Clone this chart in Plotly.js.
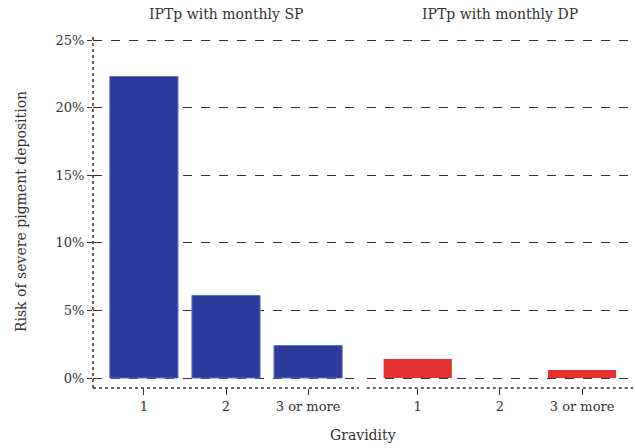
<!DOCTYPE html>
<html>
<head>
<meta charset="utf-8">
<script src="https://cdn.plot.ly/plotly-3.0.1.min.js"></script>
<style>html,body{margin:0;padding:0;background:#fff;}#chart{width:635px;height:448px;}</style>
</head>
<body>
<div id="chart"></div>
<script>
var categories = ['1', '2', '3 or more'];
var spRisk = [22.3, 6.1, 2.4];
var dpRisk = [1.4, 0, 0.6];
var panelTitles = ['IPTp with monthly SP', 'IPTp with monthly DP'];
var yTickVals = [0, 5, 10, 15, 20, 25];
var yTickText = ['0%', '5%', '10%', '15%', '20%', '25%'];

var fontFam = 'DejaVu Serif, Liberation Serif, serif';
var txt = '#333333';

var traces = [
  {type: 'bar', x: categories, y: spRisk, xaxis: 'x', yaxis: 'y',
   marker: {color: '#2a3b9c', line: {color: '#5a6fd0', width: 1}}, hoverinfo: 'x+y'},
  {type: 'bar', x: categories, y: dpRisk, xaxis: 'x2', yaxis: 'y2',
   marker: {color: '#e53030', line: {width: 0}}, hoverinfo: 'x+y'}
];

var yBase = {
  range: [-0.74, 25.37], tickmode: 'array', tickvals: yTickVals, ticktext: yTickText,
  showgrid: true, gridcolor: '#333', griddash: 'dash', gridwidth: 1,
  zeroline: false, showline: false, fixedrange: true
};
var xBase = {
  type: 'category', range: [-0.62, 2.62], showgrid: false, zeroline: false,
  showline: false, ticks: 'outside', ticklen: 6, tickcolor: '#333',
  tickfont: {family: fontFam, size: 13, color: txt}
};

var layout = {
  width: 635, height: 448,
  margin: {l: 93, r: 2, t: 35, b: 60},
  paper_bgcolor: '#fff', plot_bgcolor: '#fff',
  showlegend: false, bargap: 0.17,
  font: {family: fontFam, size: 13, color: txt},
  xaxis: Object.assign({}, xBase, {domain: [0, 0.4926], anchor: 'y'}),
  xaxis2: Object.assign({}, xBase, {domain: [0.507, 1], anchor: 'y2'}),
  yaxis: Object.assign({}, yBase, {
    anchor: 'x', ticks: 'outside', ticklen: 5, tickcolor: '#333',
    tickfont: {family: fontFam, size: 13, color: txt},
    title: {text: 'Risk of severe pigment deposition', standoff: 25,
            font: {family: fontFam, size: 14, color: txt}}
  }),
  yaxis2: Object.assign({}, yBase, {anchor: 'x2', showticklabels: false, ticks: ''}),
  shapes: [
    {type: 'line', xref: 'paper', yref: 'paper', x0: 0, x1: 0, y0: 0, y1: 1,
     line: {color: '#333', width: 1.5, dash: 'dot'}},
    {type: 'line', xref: 'paper', yref: 'paper', x0: 0, x1: 0.4926, y0: 0, y1: 0,
     line: {color: '#333', width: 1.5, dash: 'dot'}},
    {type: 'line', xref: 'paper', yref: 'paper', x0: 0.507, x1: 1, y0: 0, y1: 0,
     line: {color: '#333', width: 1.5, dash: 'dot'}}
  ],
  annotations: [
    {text: panelTitles[0], xref: 'paper', yref: 'paper', x: 0.2463, y: 1, yshift: 21,
     showarrow: false, xanchor: 'center', yanchor: 'middle',
     font: {family: fontFam, size: 14, color: txt}},
    {text: panelTitles[1], xref: 'paper', yref: 'paper', x: 0.7535, y: 1, yshift: 21,
     showarrow: false, xanchor: 'center', yanchor: 'middle',
     font: {family: fontFam, size: 14, color: txt}},
    {text: 'Gravidity', xref: 'paper', yref: 'paper', x: 0.5, y: 0, yshift: -47,
     showarrow: false, xanchor: 'center', yanchor: 'middle',
     font: {family: fontFam, size: 14, color: txt}}
  ]
};

Plotly.newPlot('chart', traces, layout, {displayModeBar: false, staticPlot: true});
</script>
</body>
</html>
